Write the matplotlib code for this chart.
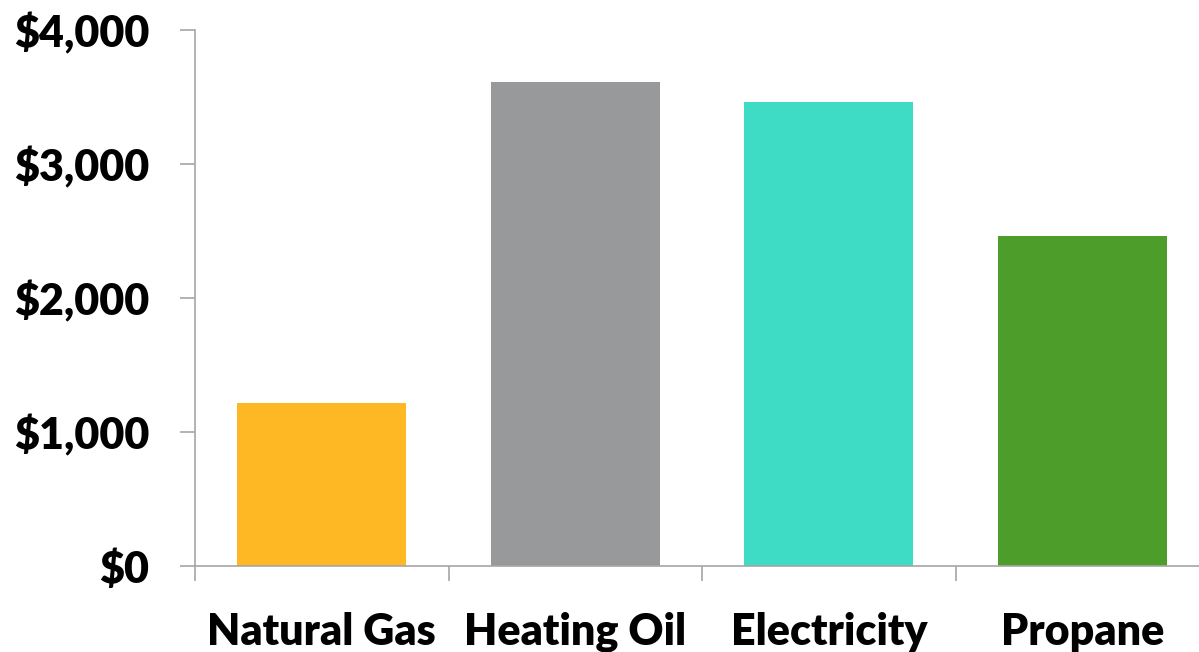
import matplotlib.pyplot as plt
import matplotlib.ticker as ticker
import numpy as np

categories = ['Natural Gas', 'Heating Oil', 'Electricity', 'Propane']
costs = [1220, 3610, 3460, 2460]
colors = ['#FDB823', '#97999B', '#3EDCC4', '#4C9D2A']
yticks = [0, 1000, 2000, 3000, 4000]

plt.rcParams['font.family'] = ['Lato', 'DejaVu Sans']
plt.rcParams['font.weight'] = 'heavy'

W, H = 1199, 652
fig = plt.figure(figsize=(W / 100, H / 100), dpi=100)
ax = fig.add_axes([195 / W, (H - 566) / H, (1209 - 195) / W, 536 / H])

x = np.arange(len(categories))
ax.bar(x, costs, width=0.665, color=colors)

ax.set_xlim(-0.5, 3.5)
ax.set_ylim(0, 4000)
ax.set_yticks(yticks)
ax.yaxis.set_major_formatter(ticker.FuncFormatter(lambda v, p: '${:,.0f}'.format(v)))

ax.set_xticks(x)
ax.set_xticklabels(categories)
ax.xaxis.set_minor_locator(ticker.FixedLocator([-0.5, 0.5, 1.5, 2.5, 3.5]))

axis_col = '#A6A6A6'
for s in ['top', 'right']:
    ax.spines[s].set_visible(False)
for s in ['left', 'bottom']:
    ax.spines[s].set_color(axis_col)
    ax.spines[s].set_linewidth(1.2)

ax.tick_params(axis='y', length=11, width=1.2, color=axis_col, pad=22, labelsize=31)
ax.tick_params(axis='x', which='major', length=0, pad=33, labelsize=31)
ax.tick_params(axis='x', which='minor', length=11, width=1.2, color=axis_col)
for lab in ax.get_xticklabels() + ax.get_yticklabels():
    lab.set_fontweight('heavy')

fig.savefig('out.png', dpi=100)
